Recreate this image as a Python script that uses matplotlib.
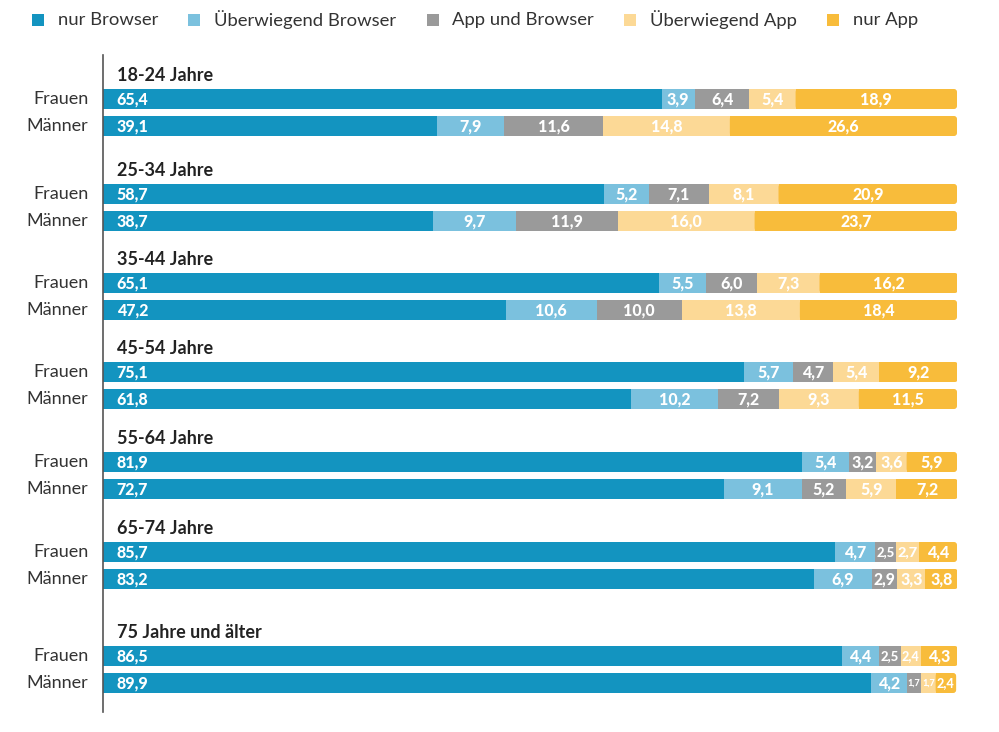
import matplotlib.pyplot as plt
from matplotlib.patches import FancyBboxPatch, Rectangle

# === Daten ===
altersgruppen = ["18-24 Jahre", "25-34 Jahre", "35-44 Jahre", "45-54 Jahre",
                 "55-64 Jahre", "65-74 Jahre", "75 Jahre und älter"]
kategorien = ["nur Browser", "Überwiegend Browser", "App und Browser",
              "Überwiegend App", "nur App"]
farben = ["#1394c0", "#7bc1de", "#9a9a9a", "#fcd996", "#f8bc3b"]

frauen = {
    "nur Browser":         [65.4, 58.7, 65.1, 75.1, 81.9, 85.7, 86.5],
    "Überwiegend Browser": [3.9, 5.2, 5.5, 5.7, 5.4, 4.7, 4.4],
    "App und Browser":     [6.4, 7.1, 6.0, 4.7, 3.2, 2.5, 2.5],
    "Überwiegend App":     [5.4, 8.1, 7.3, 5.4, 3.6, 2.7, 2.4],
    "nur App":             [18.9, 20.9, 16.2, 9.2, 5.9, 4.4, 4.3],
}
maenner = {
    "nur Browser":         [39.1, 38.7, 47.2, 61.8, 72.7, 83.2, 89.9],
    "Überwiegend Browser": [7.9, 9.7, 10.6, 10.2, 9.1, 6.9, 4.2],
    "App und Browser":     [11.6, 11.9, 10.0, 7.2, 5.2, 2.9, 1.7],
    "Überwiegend App":     [14.8, 16.0, 13.8, 9.3, 5.9, 3.3, 1.7],
    "nur App":             [26.6, 23.7, 18.4, 11.5, 7.2, 3.8, 2.4],
}

# Layout (y in Pixeln von oben)
y_frauen = [99, 194, 283, 372, 462, 552, 656]
abstand = 27
hoehe = 20

plt.rcParams['font.family'] = ['Lato', 'DejaVu Sans']

fig = plt.figure(figsize=(9.99, 7.32), dpi=100)
ax = fig.add_axes([103 / 999, 20 / 732, 854 / 999, 657 / 732])
ax.set_xlim(0, 100)
ax.set_ylim(712, 55)

px_pro_prozent = 854 / 100
zellen = []  # (text, Segmentbreite in px)


def zeichne(werte, ypos):
    for i, y in enumerate(ypos):
        links = 0
        for k, kat in enumerate(kategorien):
            v = werte[kat][i]
            if k == len(kategorien) - 1:
                # rechtes Ende leicht abgerundet
                r = 3 / px_pro_prozent
                ax.add_patch(FancyBboxPatch((links, y - hoehe / 2), v, hoehe,
                                            boxstyle=f"round,pad=0,rounding_size={r}",
                                            mutation_aspect=px_pro_prozent,
                                            facecolor=farben[k], edgecolor="none"))
                ax.barh(y, v / 2, left=links, height=hoehe, color=farben[k], linewidth=0)
            else:
                ax.barh(y, v, left=links, height=hoehe, color=farben[k], linewidth=0)
            txt = f"{v:.1f}".replace(".", ",")
            if k == 0:
                ax.text(links + 1.6, y + 0.5, txt, ha="left", va="center",
                        color="white", fontsize=11.5, fontweight="black", zorder=5)
            else:
                t = ax.text(links + v / 2, y + 0.5, txt, ha="center", va="center",
                            color="white", fontsize=11.5, fontweight="black", zorder=5)
                zellen.append((t, v * px_pro_prozent))
            links += v


y_maenner = [y + abstand for y in y_frauen]
zeichne(frauen, y_frauen)
zeichne(maenner, y_maenner)

for y, titel in zip(y_frauen, altersgruppen):
    ax.text(1.6, y - 23, titel, ha="left", va="center", fontsize=13,
            fontweight="bold", color="#222222")
    ax.text(-1.7, y, "Frauen", ha="right", va="center", fontsize=13,
            color="#333333")
    ax.text(-1.7, y + abstand, "Männer", ha="right", va="center", fontsize=13,
            color="#333333")

for s in ["top", "right", "bottom"]:
    ax.spines[s].set_visible(False)
ax.spines["left"].set_color("#555555")
ax.spines["left"].set_linewidth(1.2)
ax.set_xticks([])
ax.set_yticks([])

# Legende von Hand: Quadrat + Text, Abstand nach Textbreite
fig.canvas.draw()
rend = fig.canvas.get_renderer()
W, H = 999, 732
x_text = 58
y_leg = 20
for farbe, kat in zip(farben, kategorien):
    fig.patches.append(Rectangle(((x_text - 26) / W, 1 - (y_leg + 6) / H), 12 / W, 12 / H,
                                 transform=fig.transFigure, facecolor=farbe,
                                 edgecolor="none"))
    t = fig.text(x_text / W, 1 - y_leg / H, kat, ha="left", va="center",
                 fontsize=13.3, color="#333333")
    x_text += t.get_window_extent(rend).width + 56

# Beschriftungen in schmalen Segmenten verkleinern
for t, breite in zellen:
    w = t.get_window_extent(rend).width
    if w > breite - 3:
        t.set_fontsize(max(6.5, t.get_fontsize() * (breite - 3) / w))

fig.savefig("out.png", dpi=100)
